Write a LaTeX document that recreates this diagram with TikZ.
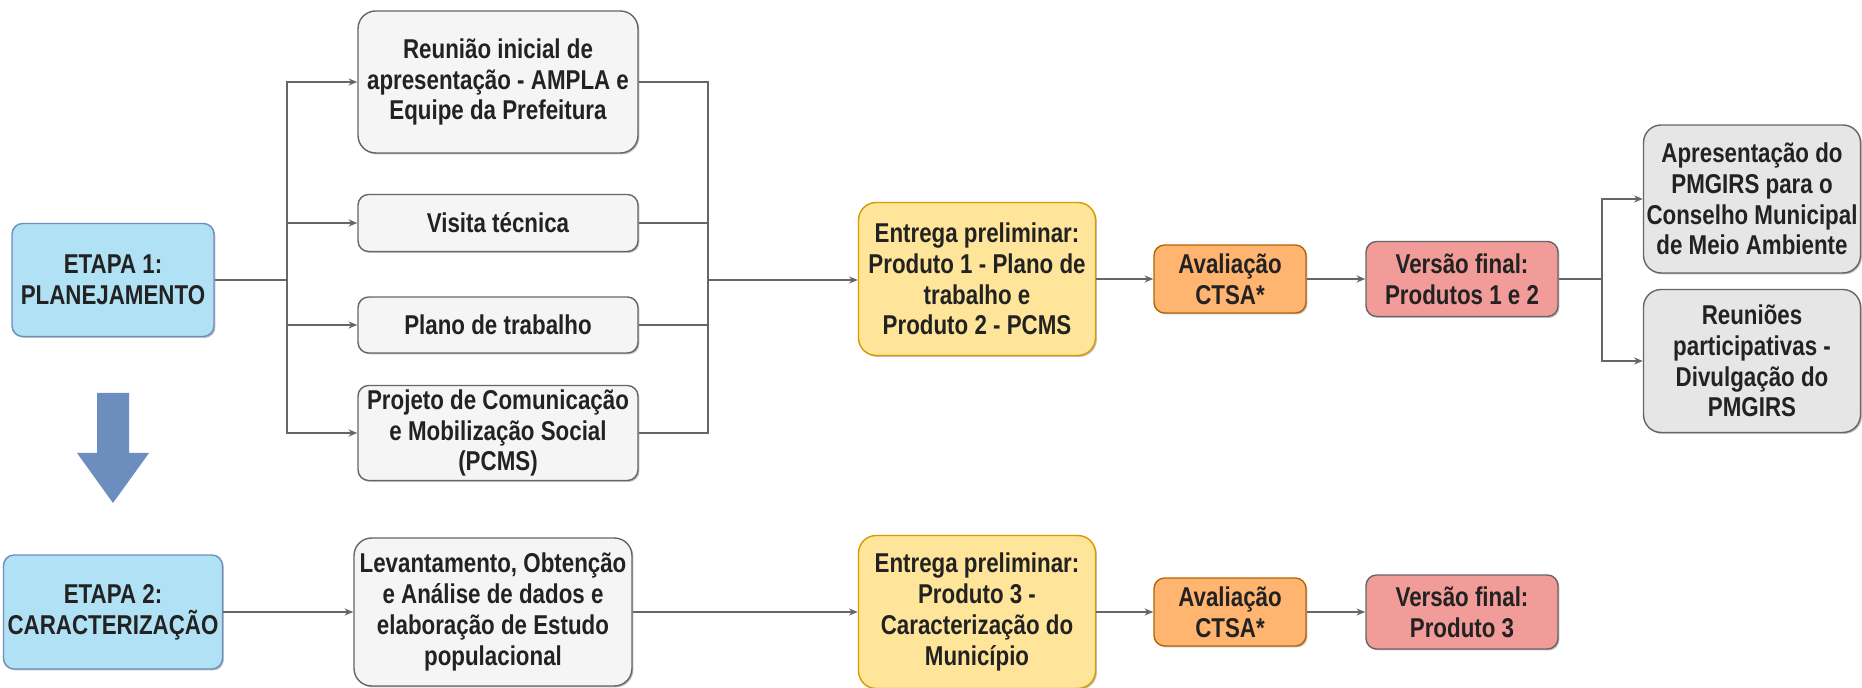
\documentclass[tikz,border=0pt]{standalone}
\usepackage{fontspec}
\setmainfont[FakeStretch=0.82]{Liberation Sans}
\usetikzlibrary{arrows.meta, shadows}
\definecolor{etapaFill}{HTML}{B1E1F4}
\definecolor{etapaLine}{HTML}{6C8EBF}
\definecolor{taskFill}{HTML}{F5F5F5}
\definecolor{boxLine}{HTML}{666666}
\definecolor{entregaFill}{HTML}{FFE599}
\definecolor{entregaLine}{HTML}{D79B00}
\definecolor{avalFill}{HTML}{FFB570}
\definecolor{avalLine}{HTML}{B46504}
\definecolor{versaoFill}{HTML}{F19C99}
\definecolor{finalFill}{HTML}{E6E6E6}
\definecolor{arrowBlue}{HTML}{6C8EBF}
\definecolor{txtGray}{HTML}{222222}
\newcommand*{\xMax}{1862}
\newcommand*{\yMax}{688}

\begin{document}
\begin{tikzpicture}[x=0.02cm, y=-0.02cm,
	box/.style={draw, rounded corners=6pt, line width=0.8pt, align=center, text=txtGray,
		font=\fontsize{15.5}{17.5}\selectfont\bfseries, inner xsep=1pt, inner ysep=1pt,
		drop shadow={shadow xshift=0.8pt, shadow yshift=-0.8pt, opacity=0.25, fill=black}},
	etapa/.style={box, fill=etapaFill, draw=etapaLine},
	task/.style={box, fill=taskFill, draw=boxLine, minimum width=5.6cm},
	entrega/.style={box, fill=entregaFill, draw=entregaLine, rounded corners=10pt, minimum width=4.74cm, minimum height=3.06cm},
	aval/.style={box, fill=avalFill, draw=avalLine, minimum width=3.04cm, minimum height=1.36cm},
	versao/.style={box, fill=versaoFill, draw=boxLine, minimum width=3.84cm},
	final/.style={box, fill=finalFill, draw=boxLine, rounded corners=10pt, minimum width=4.34cm},
	link/.style={draw=boxLine, line width=0.8pt},
	arr/.style={link, -{Stealth[length=5pt, width=4pt]}}]
	\useasboundingbox (0,0) rectangle (\xMax,\yMax);

% etapa 1
	\node [etapa, minimum width=4.04cm, minimum height=2.26cm] (etapa1) at (113,280) {ETAPA 1:\\PLANEJAMENTO};
	\node [task, rounded corners=10pt, minimum height=2.84cm] (reuniao) at (498,82) {Reunião inicial de\\apresentação - AMPLA e\\Equipe da Prefeitura};
	\node [task, minimum height=1.14cm] (visita) at (498,223) {Visita técnica};
	\node [task, minimum height=1.12cm] (plano) at (498,325) {Plano de trabalho};
	\node [task, minimum height=1.9cm] (projeto) at (498,433) {Projeto de Comunicação\\e Mobilização Social\\(PCMS)};
	\node [entrega] (entrega1) at (977,279) {Entrega preliminar:\\Produto 1 - Plano de\\trabalho e\\Produto 2 - PCMS};
	\node [aval] (aval1) at (1230,279) {Avaliação\\CTSA*};
	\node [versao, minimum height=1.5cm] (versao1) at (1462,279) {Versão final:\\Produtos 1 e 2};
	\node [final, minimum height=2.96cm] (apres) at (1752,199) {Apresentação do\\PMGIRS para o\\Conselho Municipal\\de Meio Ambiente};
	\node [final, minimum height=2.86cm] (reunioes) at (1752,361) {Reuniões\\participativas -\\Divulgação do\\PMGIRS};

	\coordinate (split1) at (287,280);
	\coordinate (merge1) at (708,280);
	\coordinate (split2) at (1602,279);
	\path [link] (etapa1) -- (split1);
	\foreach \n in {reuniao,visita,plano,projeto}
	{
		\path [arr] (split1) |- (\n.west);
		\path [link] (\n.east) -| (merge1);
	}
	\path [arr] (merge1) -- (entrega1.west |- merge1);
	\path [arr] (entrega1) -- (aval1);
	\path [arr] (aval1) -- (versao1);
	\path [link] (versao1) -- (split2);
	\path [arr] (split2) |- (apres.west);
	\path [arr] (split2) |- (reunioes.west);

% seta entre etapas
	\fill [arrowBlue] (97,393) -- (129,393) -- (129,453) -- (149,453) -- (113,503) -- (77,453) -- (97,453) -- cycle;

% etapa 2
	\node [etapa, minimum width=4.38cm, minimum height=2.28cm] (etapa2) at (113,612) {ETAPA 2:\\CARACTERIZAÇÃO};
	\node [task, rounded corners=10pt, minimum width=5.56cm, minimum height=2.96cm] (levant) at (493,612) {Levantamento, Obtenção\\e Análise de dados e\\elaboração de Estudo\\populacional};
	\node [entrega] (entrega2) at (977,612) {Entrega preliminar:\\Produto 3 -\\Caracterização do\\Município};
	\node [aval] (aval2) at (1230,612) {Avaliação\\CTSA*};
	\node [versao, minimum height=1.48cm] (versao2) at (1462,612) {Versão final:\\Produto 3};

	\path [arr] (etapa2) -- (levant);
	\path [arr] (levant) -- (entrega2);
	\path [arr] (entrega2) -- (aval2);
	\path [arr] (aval2) -- (versao2);
\end{tikzpicture}
\end{document}
